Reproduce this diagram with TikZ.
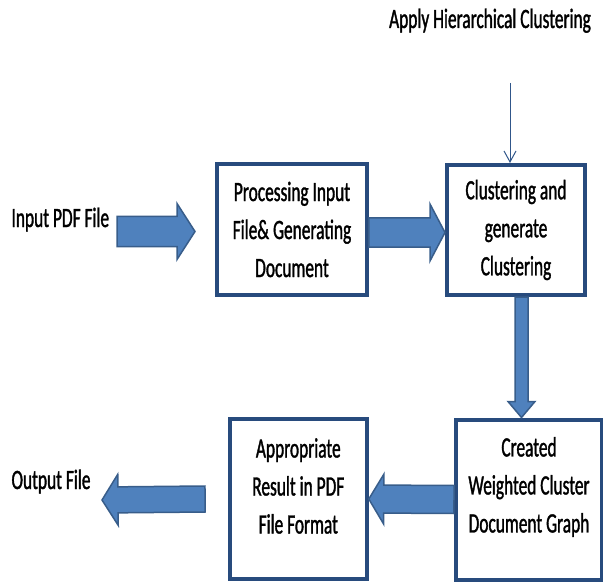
\documentclass[tikz,border=0pt]{standalone}
\usepackage{fontspec}
\setmainfont{Carlito}[FakeStretch=0.62, FakeBold=1.2]
\usetikzlibrary{calc,arrows.meta}

\definecolor{boxedge}{RGB}{40,75,125}
\definecolor{arrowfill}{RGB}{79,129,189}
\definecolor{arrowedge}{RGB}{56,93,138}

\tikzset{
    steplabel/.style={align=center, font=\fontsize{28}{38}\selectfont},
    stepbox/.style={steplabel, draw=boxedge, line width=4pt, fill=white, inner sep=0pt},
    blockarrow/.style n args={3}{draw=arrowedge, fill=arrowfill, line width=1.5pt,
        to path={
            ($(\tikztotarget)!#3!(\tikztostart)$) coordinate (headbase)
            ($(\tikztostart)!#1!90:(\tikztotarget)$)
            -- ($(headbase)!#1!90:(\tikztotarget)$)
            -- ($(headbase)!#2!90:(\tikztotarget)$)
            -- (\tikztotarget)
            -- ($(headbase)!#2!-90:(\tikztotarget)$)
            -- ($(headbase)!#1!-90:(\tikztotarget)$)
            -- ($(\tikztostart)!#1!-90:(\tikztotarget)$)
            -- cycle}}
}

\begin{document}
\begin{tikzpicture}[x=1pt, y=-1pt]
    \useasboundingbox (0,0) rectangle (603,583);

    % outside labels
    \node[steplabel, anchor=base] (hier) at (490,28) {Apply Hierarchical Clustering};
    \node[steplabel, anchor=base west] (input) at (8,227) {Input PDF File};
    \node[steplabel, anchor=base west] (output) at (8,489) {Output File};

    % the four steps
    \node[stepbox, minimum width=149.5pt, minimum height=131pt] (proc) at (292,229.5) {Processing Input\\File\& Generating\\Document};
    \node[stepbox, minimum width=138pt, minimum height=130pt] (clus) at (516,230) {Clustering and\\generate\\Clustering};
    \node[stepbox, minimum width=146pt, minimum height=160pt] (graph) at (529,499.5) {};
    \node[steplabel] (graphtext) at (529,487) {Created\\Weighted Cluster\\Document Graph};
    \node[stepbox, minimum width=137pt, minimum height=160pt] (result) at (298.3,499) {};
    \node[steplabel] (resulttext) at (298.3,486) {Appropriate\\Result in PDF\\File Format};

    % free ends
    \coordinate (hiertail) at (510,83);
    \coordinate (intail) at (117,231.5);
    \coordinate (inhead) at (195,231.5);
    \coordinate (a2s) at ([yshift=-3pt]proc.east);
    \coordinate (a2e) at (a2s -| clus.west);
    \coordinate (a3s) at ([xshift=5.5pt]clus.south);
    \coordinate (a3e) at (a3s |- graph.north);
    \coordinate (a5s) at ([xshift=-22.7pt]result.west);
    \coordinate (a5e) at (102,500);

    \draw[boxedge!80!arrowfill, line width=1pt, -{Straight Barb[length=11pt,width=12pt]}] (hiertail) -- (hiertail |- clus.north);
    \draw[blockarrow={15pt}{28pt}{18pt}] (intail) to (inhead);
    \draw[blockarrow={14.5pt}{28.5pt}{15pt}] (a2s) to (a2e);
    \draw[blockarrow={6.5pt}{13.5pt}{16pt}] (a3s) to (a3e);
    \draw[blockarrow={14pt}{25pt}{15pt}] (graph.west) to (result.east);
    \draw[blockarrow={13pt}{25.5pt}{16pt}] (a5s) to (a5e);
\end{tikzpicture}
\end{document}
